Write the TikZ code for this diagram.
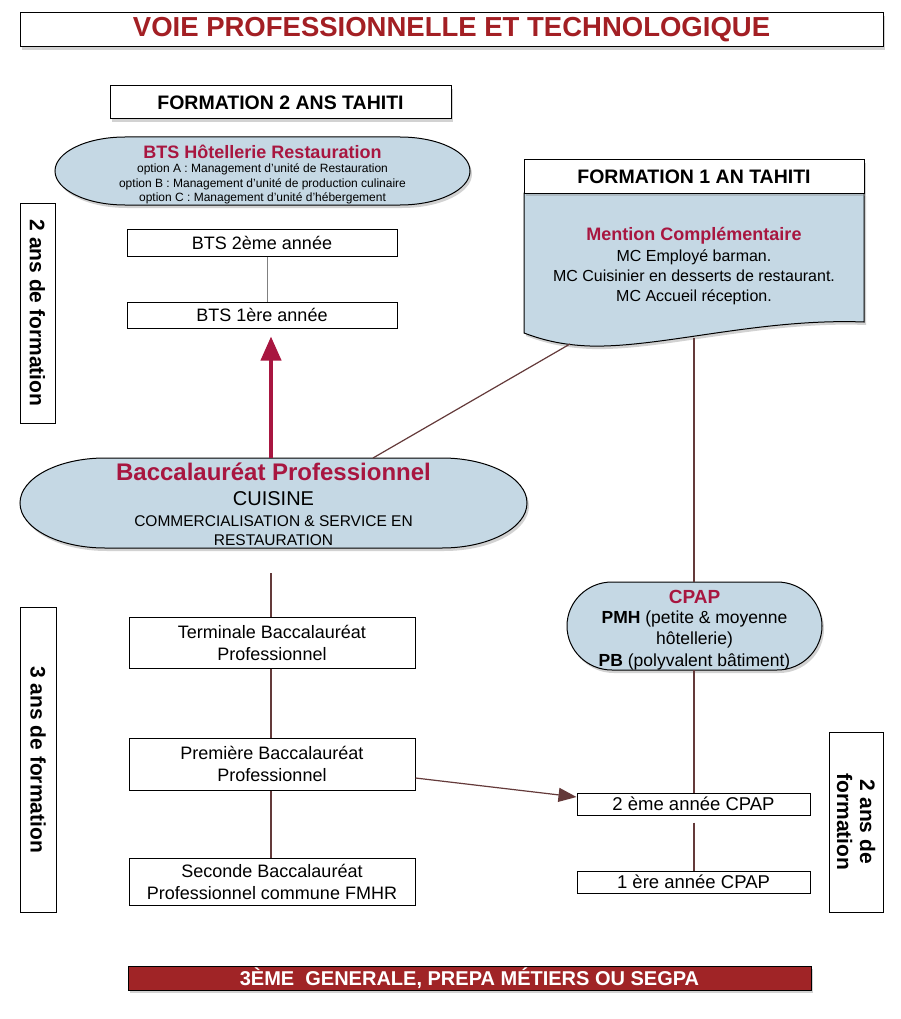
\documentclass[tikz,border=0pt]{standalone}
\usepackage{fontspec}
\setmainfont{Liberation Sans}
\usetikzlibrary{shadows,arrows.meta,calc}
\definecolor{titlered}{RGB}{163,31,36}
\definecolor{crimson}{RGB}{168,22,64}
\definecolor{paleblue}{RGB}{197,216,228}
\definecolor{linebrown}{RGB}{100,58,58}
\definecolor{barred}{RGB}{160,36,38}
\newcommand\fsz[2]{\fontsize{#1}{#2}\selectfont}
\newcommand\mypill[5]{\path[pill,shadowed] (#1+#5,#2) -- (#3-#5,#2) arc[start angle=-90,end angle=90,x radius=#5,y radius={(#4-#2)/2}] -- (#1+#5,#4) arc[start angle=90,end angle=270,x radius=#5,y radius={(#4-#2)/2}] -- cycle;}
\begin{document}
\begin{tikzpicture}[x=1pt,y=-1pt,
 box/.style={draw=black, line width=1pt, fill=white, inner sep=0pt, align=center},
 shadowed/.style={drop shadow={opacity=0.35, shadow xshift=2pt, shadow yshift=-3pt}},
 txt/.style={inner sep=0pt, anchor=center, align=center},
 conn/.style={draw=linebrown, line width=1.2pt},
 pill/.style={draw=black, line width=1pt, fill=paleblue},
 area/.style={inner sep=0pt, draw=none},
]
\useasboundingbox[fill=white] (0,0) rectangle (900,1019);

% title
\node[box, shadowed, minimum width=863, minimum height=34, font=\fsz{27.5}{30}\bfseries, text=titlered] (title) at (451.5,30) {VOIE PROFESSIONNELLE ET TECHNOLOGIQUE};

% formation 2 ans
\node[box, shadowed, minimum width=341, minimum height=33, font=\fsz{19.5}{22}\bfseries] (f2) at (280.5,102.5) {FORMATION 2 ANS TAHITI};

% BTS pill
\mypill{55}{137}{470}{205}{70}
\node[area, minimum width=415, minimum height=68] (bts) at (262.5,171) {};
\node[txt, font=\fsz{18}{20}\bfseries, text=crimson] (btsT) at (262.5,152) {BTS Hôtellerie Restauration};
\node[txt, font=\fsz{12}{14.5}] (btsO) at (262.5,184) {option A : Management d’unité de Restauration\\option B : Management d’unité de production culinaire\\option C : Management d’unité d’hébergement};

% BTS years
\node[box, minimum width=270, minimum height=27, font=\fsz{18}{20}] (bts2) at (262,242.5) {BTS 2ème année};
\node[box, minimum width=270, minimum height=26, font=\fsz{18}{20}] (bts1) at (262,315) {BTS 1ère année};

% MC document
\path[pill,shadowed] (524,193) -- (864,193) -- (864,322) .. controls (760,318) and (660,348) .. (590,346) .. controls (560,345) and (540,339) .. (524,333) -- cycle;
\node[box, shadowed, minimum width=340, minimum height=33, font=\fsz{19.5}{22}\bfseries] (f1) at (694,176.5) {FORMATION 1 AN TAHITI};
\node[txt, font=\fsz{18}{20}\bfseries, text=crimson] (mcT) at (694,236) {Mention Complémentaire};
\node[txt, font=\fsz{16}{20}] (mcL) at (694,277) {MC Employé barman.\\MC Cuisinier en desserts de restaurant.\\MC Accueil réception.};
\coordinate (mcA) at (570,344);
\coordinate (mcB) at (694,338);

% Bac pro pill
\mypill{20}{458}{527}{548}{85}
\node[area, minimum width=507, minimum height=90] (bac) at (273.5,503) {};
\node[txt, font=\fsz{24}{26}\bfseries, text=crimson] (bacT) at (273.5,472) {Baccalauréat Professionnel};
\node[txt, font=\fsz{20}{22}] (bacC) at (273.5,499) {CUISINE};
\node[txt, font=\fsz{15.5}{19}] (bacS) at (273.5,531) {COMMERCIALISATION \& SERVICE EN\\RESTAURATION};
\coordinate (bacL) at (271,573);
\coordinate (bacR) at (373,458);
\coordinate (arrS) at (271,458);

% left column boxes
\node[box, minimum width=286, minimum height=51, font=\fsz{18}{22}] (term) at (272,642.5) {Terminale Baccalauréat\\Professionnel};
\node[box, minimum width=286, minimum height=52, font=\fsz{18}{22}] (prem) at (272,764) {Première Baccalauréat\\Professionnel};
\node[box, minimum width=286, minimum height=47, font=\fsz{18}{22}] (sec) at (272,881.5) {Seconde Baccalauréat\\Professionnel commune FMHR};

% CPAP pill
\mypill{567}{582}{822}{670}{45}
\node[area, minimum width=255, minimum height=88] (cpap) at (694.5,626) {};
\node[txt, font=\fsz{19}{21}\bfseries, text=crimson] (cpapT) at (694.5,597) {CPAP};
\node[txt, font=\fsz{17.5}{21.5}] (cpapL) at (694.5,640) {\textbf{PMH} (petite \& moyenne\\hôtellerie)\\\textbf{PB} (polyvalent bâtiment)};

\node[box, minimum width=233, minimum height=22, font=\fsz{18.5}{20}] (cpap2) at (693.5,804) {2 ème année CPAP};
\node[box, minimum width=233, minimum height=22, font=\fsz{18.5}{20}] (cpap1) at (693.5,882) {1 ère année CPAP};

% side labels
\node[box, rotate=-90, minimum width=220, minimum height=35, font=\fsz{21}{24}\bfseries] (lab1) at (37.5,313) {2 ans de formation};
\node[box, rotate=-90, minimum width=305, minimum height=36, font=\fsz{21}{24}\bfseries] (lab2) at (38,759.5) {3 ans de formation};
\node[box, rotate=-90, minimum width=180, minimum height=54, font=\fsz{21}{23}\bfseries] (lab3) at (856,822) {2 ans de\\formation};

% bottom bar
\node[box, shadowed, fill=barred, minimum width=683, minimum height=24, font=\fsz{20}{22}\bfseries, text=white] (bottom) at (469.5,978) {3ÈME\ \ GENERALE, PREPA MÉTIERS OU SEGPA};

% connectors
\draw[draw=gray, line width=1pt] ([xshift=5pt]bts2.south) -- ([xshift=5pt]bts1.north);
\draw[draw=crimson, line width=4pt, -{Triangle[length=24pt,width=20pt]}, shorten >=8pt] (arrS) -- (arrS |- bts1.south);
\draw[conn] (bacR) -- (mcA);
\draw[conn] (mcB) -- (mcB |- cpap.north);
\draw[conn] (bacL) -- (bacL |- term.north);
\draw[conn] (bacL |- term.south) -- (bacL |- prem.north);
\draw[conn] (bacL |- prem.south) -- (bacL |- sec.north);
\draw[conn, -{Triangle[length=18pt,width=14pt]}] ([yshift=-14pt]prem.east) -- ([yshift=7pt]cpap2.west);
\draw[conn] (mcB |- cpap.south) -- (mcB |- cpap2.north);
\draw[conn, shorten <=7pt] (mcB |- cpap2.south) -- (mcB |- cpap1.north);
\end{tikzpicture}
\end{document}
